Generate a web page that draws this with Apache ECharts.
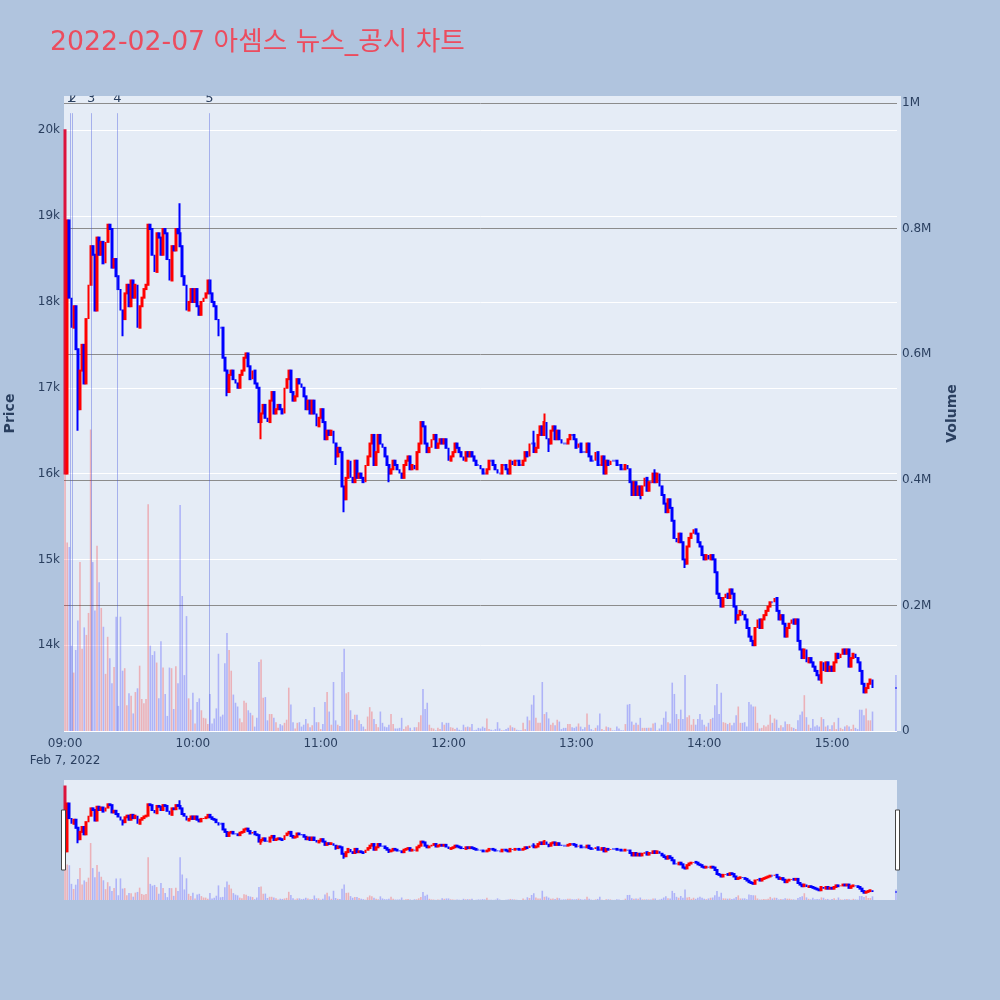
<!DOCTYPE html>
<html>
<head>
<meta charset="utf-8">
<title>2022-02-07 아셈스 뉴스_공시 차트</title>
<script src="https://cdn.jsdelivr.net/npm/echarts@6.0.0/dist/echarts.min.js"></script>
<style>
  html, body { margin: 0; padding: 0; background: #b0c4de; }
  #main { width: 1000px; height: 1000px; }
</style>
</head>
<body>
<div id="main"></div>
<script>
// one close per minute, 09:00 .. 15:19
const closes = [
  20000, 18950, 18050, 17700, 17950, 17450, 16750, 17200, 17500, 17050, // 09:00
  17800, 18200, 18650, 18550, 17900, 18750, 18550, 18700, 18450, 18700,
  18900, 18850, 18400, 18500, 18300, 18150, 17900, 17800, 18100, 18200,
  17950, 18250, 18050, 18200, 17700, 17950, 18050, 18150, 18200, 18900,
  18850, 18550, 18350, 18800, 18750, 18550, 18850, 18800, 18500, 18250,
  18650, 18600, 18850, 18800, 18650, 18300, 18200, 17900, 18000, 18150,
  18000, 18150, 17950, 17850, 18000, 18050, 18100, 18250, 18100, 18000, // 10:00
  17950, 17800, 17700, 17700, 17350, 17200, 16950, 17150, 17200, 17100,
  17050, 17000, 17150, 17200, 17350, 17400, 17250, 17100, 17200, 17050,
  17000, 16600, 16700, 16800, 16650, 16600, 16850, 16950, 16700, 16750,
  16800, 16750, 16700, 17000, 17100, 17200, 16950, 16850, 16900, 17100,
  17050, 17000, 16900, 16750, 16850, 16700, 16850, 16700, 16550, 16650,
  16750, 16600, 16400, 16500, 16450, 16500, 16350, 16200, 16300, 16250, // 11:00
  15850, 15700, 15950, 16150, 15950, 15900, 16150, 15950, 16000, 15950,
  15900, 16100, 16200, 16350, 16450, 16100, 16250, 16450, 16350, 16300,
  16200, 16100, 16000, 16050, 16150, 16100, 16050, 16000, 15950, 16100,
  16150, 16200, 16050, 16100, 16050, 16250, 16350, 16600, 16550, 16350,
  16250, 16300, 16400, 16450, 16300, 16350, 16400, 16350, 16400, 16300,
  16150, 16200, 16250, 16350, 16300, 16250, 16200, 16150, 16250, 16200, // 12:00
  16250, 16200, 16150, 16100, 16100, 16050, 16000, 16000, 16050, 16150,
  16150, 16100, 16050, 16000, 16000, 16100, 16100, 16050, 16000, 16150,
  16100, 16150, 16150, 16100, 16100, 16150, 16250, 16200, 16350, 16350,
  16250, 16300, 16450, 16550, 16450, 16600, 16400, 16350, 16500, 16550,
  16400, 16500, 16400, 16350, 16350, 16350, 16400, 16450, 16450, 16400,
  16300, 16350, 16250, 16250, 16250, 16350, 16200, 16150, 16150, 16250, // 13:00
  16100, 16100, 16200, 16000, 16150, 16100, 16150, 16150, 16150, 16100,
  16100, 16050, 16050, 16100, 16050, 15900, 15750, 15900, 15750, 15850,
  15750, 15850, 15950, 15800, 15900, 15900, 16000, 15900, 16000, 15850,
  15750, 15650, 15550, 15700, 15600, 15450, 15250, 15200, 15300, 15200,
  15000, 14950, 15150, 15250, 15300, 15350, 15300, 15200, 15150, 15050,
  15000, 15050, 15000, 15050, 15000, 14850, 14600, 14550, 14450, 14550, // 14:00
  14600, 14550, 14650, 14600, 14450, 14300, 14350, 14400, 14350, 14300,
  14200, 14100, 14050, 14000, 14200, 14300, 14200, 14300, 14350, 14400,
  14450, 14500, 14500, 14550, 14400, 14300, 14350, 14250, 14100, 14200,
  14250, 14300, 14250, 14300, 14050, 13950, 13850, 13950, 13800, 13850,
  13800, 13750, 13700, 13650, 13600, 13800, 13700, 13800, 13700, 13750,
  13700, 13800, 13900, 13850, 13900, 13950, 13900, 13950, 13750, 13850, // 15:00
  13900, 13850, 13800, 13700, 13550, 13450, 13500, 13550, 13600, 13500
];

// minutes whose open is not the previous close
const openGaps = [[0, 16000], [1, 16000]];
// long wicks: [minute, price]
const spikeLows = [[6, 16500], [27, 17600], [72, 17600], [76, 16900], [92, 16400], [127, 16100],
  [131, 15550], [152, 15900], [227, 16250], [270, 15700], [291, 14900], [315, 14250], [355, 13550]];
const spikeHighs = [[0, 20000], [54, 19150], [220, 16500], [225, 16700], [277, 16050]];

// volume per minute, thousands of shares
const volumes = [
  600, 300, 293, 136, 93, 129, 176, 269, 131, 165,
  153, 188, 480, 269, 192, 295, 237, 196, 166, 91,
  150, 116, 76, 102, 182, 40, 182, 96, 100, 41,
  60, 56, 28, 62, 68, 104, 51, 44, 51, 361,
  136, 121, 127, 109, 52, 143, 101, 59, 24, 101,
  100, 35, 103, 76, 360, 215, 89, 183, 52, 34,
  61, 12, 46, 52, 33, 21, 20, 11, 59, 12,
  20, 36, 123, 23, 26, 108, 156, 129, 96, 58,
  45, 39, 20, 14, 48, 45, 33, 29, 25, 7,
  21, 110, 114, 53, 54, 17, 27, 27, 21, 14,
  5, 11, 9, 13, 18, 69, 42, 14, 4, 13,
  14, 7, 10, 19, 12, 6, 9, 38, 14, 14,
  3, 11, 46, 62, 31, 10, 78, 17, 10, 8,
  94, 131, 60, 62, 33, 19, 26, 26, 17, 11,
  7, 3, 23, 38, 31, 19, 11, 6, 31, 13,
  7, 6, 10, 27, 11, 4, 4, 5, 21, 3,
  7, 9, 5, 1, 6, 6, 14, 25, 67, 35,
  45, 10, 5, 4, 1, 5, 3, 14, 10, 13,
  13, 6, 5, 3, 5, 2, 1, 10, 6, 7,
  6, 11, 1, 2, 5, 4, 7, 5, 20, 3,
  2, 1, 3, 14, 4, 1, 1, 3, 5, 9,
  6, 5, 2, 1, 1, 13, 3, 23, 17, 42,
  57, 21, 13, 13, 78, 27, 30, 20, 10, 13,
  9, 18, 15, 3, 5, 5, 11, 11, 6, 5,
  7, 12, 7, 3, 6, 28, 10, 3, 1, 5,
  9, 28, 3, 1, 7, 6, 5, 1, 1, 7,
  4, 1, 1, 11, 42, 43, 15, 10, 13, 10,
  21, 5, 5, 5, 5, 5, 12, 13, 1, 4,
  10, 21, 31, 14, 12, 77, 59, 27, 19, 34,
  19, 89, 22, 25, 10, 19, 10, 19, 27, 18,
  10, 7, 13, 19, 21, 41, 75, 27, 61, 14,
  13, 11, 13, 9, 13, 25, 39, 13, 13, 14,
  7, 46, 42, 39, 39, 13, 4, 5, 9, 7,
  10, 26, 13, 20, 18, 5, 9, 6, 15, 11,
  11, 6, 5, 3, 17, 26, 31, 57, 22, 10,
  5, 19, 7, 9, 7, 22, 19, 7, 9, 3,
  9, 14, 3, 21, 5, 3, 7, 9, 7, 3,
  10, 5, 3, 34, 34, 25, 36, 17, 17, 31
];

// 15:30 closing auction
const closingMinute = 390;
const closingPrice = 13500;
const closingVolume = 89;

// news / disclosure times, minutes after 09:00
const newsAt = [2.65, 3.6, 12.2, 24.6, 67.8];
const newsLabels = ['1', '2', '3', '4', '5'];

const UP = '#ff0000', DOWN = '#0000ff', FIRST = '#dc143c';
const UP_VOL = 'rgba(255,0,0,0.25)', DOWN_VOL = 'rgba(0,0,255,0.24)';
const FONT = "'DejaVu Sans', 'Noto Sans CJK KR', sans-serif";
const INK = '#2a3f5f';

const times = [];
for (let m = 0; m <= closingMinute; m++) {
    const h = 9 + Math.floor(m / 60), mm = m % 60;
    times.push(String(h).padStart(2, '0') + ':' + String(mm).padStart(2, '0'));
}

const openOf = Object.fromEntries(openGaps);
const lowOf = Object.fromEntries(spikeLows);
const highOf = Object.fromEntries(spikeHighs);

const candles = [], volBars = [];
times.forEach((t, i) => {
    let o, c, v;
    if (i < closes.length) {
        c = closes[i];
        o = i in openOf ? openOf[i] : closes[i - 1];
        v = volumes[i];
    } else if (i === closingMinute) {
        o = c = closingPrice;
        v = closingVolume;
    } else {
        candles.push('-');
        volBars.push('-');
        return;
    }
    const lo = Math.min(o, c, i in lowOf ? lowOf[i] : Infinity);
    const hi = Math.max(o, c, i in highOf ? highOf[i] : -Infinity);
    const up = c > o;
    const item = { value: [o, c, lo, hi] };
    if (i === 0) {
        item.itemStyle = { color: FIRST, color0: FIRST, borderColor: FIRST, borderColor0: FIRST };
    } else if (o === c) {
        item.itemStyle = { color: DOWN, color0: DOWN, borderColor: DOWN, borderColor0: DOWN };
    }
    candles.push(item);
    volBars.push({ value: v * 1000, itemStyle: { color: up ? UP_VOL : DOWN_VOL } });
});

const news = newsAt.map((t, i) => ({
    name: newsLabels[i],
    coords: [[t, 13000], [t, 20200]]
}));

const candleStyle = {
    color: UP, color0: DOWN, borderColor: UP, borderColor0: DOWN, borderWidth: 2
};

const priceMin = 13000, priceMax = 20400, volMax = 1011100;

const option = {
    backgroundColor: '#b0c4de',
    animation: false,
    textStyle: { fontFamily: FONT },
    title: {
        text: '2022-02-07 아셈스 뉴스_공시 차트',
        left: 50,
        top: 30,
        padding: 0,
        textStyle: { color: '#ec4c5e', fontSize: 26.7, fontWeight: 'normal', fontFamily: FONT }
    },
    grid: [
        { left: 64, top: 96, width: 833, height: 635, show: true, backgroundColor: '#e5ecf6', borderWidth: 0, outerBoundsMode: 'none', containLabel: false },
        { left: 64, top: 780, width: 833, height: 120, show: true, backgroundColor: '#e5ecf6', borderWidth: 0, outerBoundsMode: 'none', containLabel: false }
    ],
    xAxis: [
        {
            type: 'category', gridIndex: 0, data: times, boundaryGap: true,
            axisLine: { show: false }, axisTick: { show: false }, splitLine: { show: false },
            axisLabel: {
                color: INK, fontSize: 12, margin: 4, lineHeight: 17,
                interval: (index) => index % 60 === 0,
                formatter: (v, i) => i === 0 ? v + '\nFeb 7, 2022' : v
            }
        },
        { type: 'category', gridIndex: 1, data: times, boundaryGap: true, show: false },
        { type: 'value', gridIndex: 0, min: -0.5, max: closingMinute + 0.5, show: false }
    ],
    yAxis: [
        {
            type: 'value', gridIndex: 0, position: 'left',
            min: priceMin, max: priceMax, interval: 1000,
            name: 'Price', nameLocation: 'middle', nameGap: 47,
            nameTextStyle: { color: INK, fontSize: 14, fontWeight: 'bold' },
            axisLine: { show: false }, axisTick: { show: false },
            axisLabel: {
                color: INK, fontSize: 12, margin: 4,
                formatter: (v) => (v % 1000 === 0 && v !== priceMin) ? (v / 1000) + 'k' : ''
            },
            splitLine: { lineStyle: { width: 1, color: ['#ffffff', '#ffffff', '#ffffff', '#ffffff', '#ffffff', '#ffffff', '#ffffff', '#ffffff', 'rgba(0,0,0,0)'] } }
        },
        {
            type: 'value', gridIndex: 0, position: 'right',
            min: 0, max: volMax, interval: 200000,
            name: 'Volume', nameLocation: 'middle', nameGap: 48,
            nameTextStyle: { color: INK, fontSize: 14, fontWeight: 'bold' },
            axisLine: { show: false }, axisTick: { show: false },
            axisLabel: {
                color: INK, fontSize: 12, margin: 5,
                formatter: (v) => v % 200000 !== 0 ? '' : (v === 0 ? '0' : (v / 1e6) + 'M')
            },
            splitLine: { lineStyle: { width: 1, color: ['#ffffff', '#8c8c8c', '#8c8c8c', '#8c8c8c', '#8c8c8c', '#8c8c8c', 'rgba(0,0,0,0)'] } }
        },
        { type: 'value', gridIndex: 1, min: priceMin, max: priceMax, show: false, splitLine: { show: false } },
        { type: 'value', gridIndex: 1, min: 0, max: volMax, show: false, splitLine: { show: false } }
    ],
    graphic: [
        { type: 'rect', shape: { x: 897, y: 96, width: 4, height: 635 }, style: { fill: '#e5ecf6' }, z: -1, silent: true },
        { type: 'rect', shape: { x: 61.5, y: 810, width: 4, height: 60 }, style: { fill: '#ffffff', stroke: '#444444', lineWidth: 1 }, z: 100 },
        { type: 'rect', shape: { x: 895.5, y: 810, width: 4, height: 60 }, style: { fill: '#ffffff', stroke: '#444444', lineWidth: 1 }, z: 100 }
    ],
    series: [
        {
            name: 'Volume', type: 'bar', xAxisIndex: 0, yAxisIndex: 1,
            data: volBars, barWidth: '75%', silent: true, z: 1
        },
        {
            name: 'Price', type: 'candlestick', xAxisIndex: 0, yAxisIndex: 0,
            data: candles, barWidth: 1.4, itemStyle: candleStyle, silent: true, z: 2
        },
        {
            name: 'News', type: 'lines', coordinateSystem: 'cartesian2d',
            xAxisIndex: 2, yAxisIndex: 0, data: news, silent: true, z: 3,
            lineStyle: { color: 'rgba(60,80,220,0.38)', width: 1, opacity: 1, curveness: 0 },
            label: { show: true, position: 'end', formatter: '{b}', color: INK, fontSize: 13, distance: 8 }
        },
        {
            name: 'Volume mini', type: 'bar', xAxisIndex: 1, yAxisIndex: 3,
            data: volBars, barWidth: '75%', silent: true, z: 1
        },
        {
            name: 'Price mini', type: 'candlestick', xAxisIndex: 1, yAxisIndex: 2,
            data: candles, barWidth: 1.4, itemStyle: candleStyle, silent: true, z: 2
        }
    ]
};

const myChart = echarts.init(document.getElementById('main'));
myChart.setOption(option);
</script>
</body>
</html>
